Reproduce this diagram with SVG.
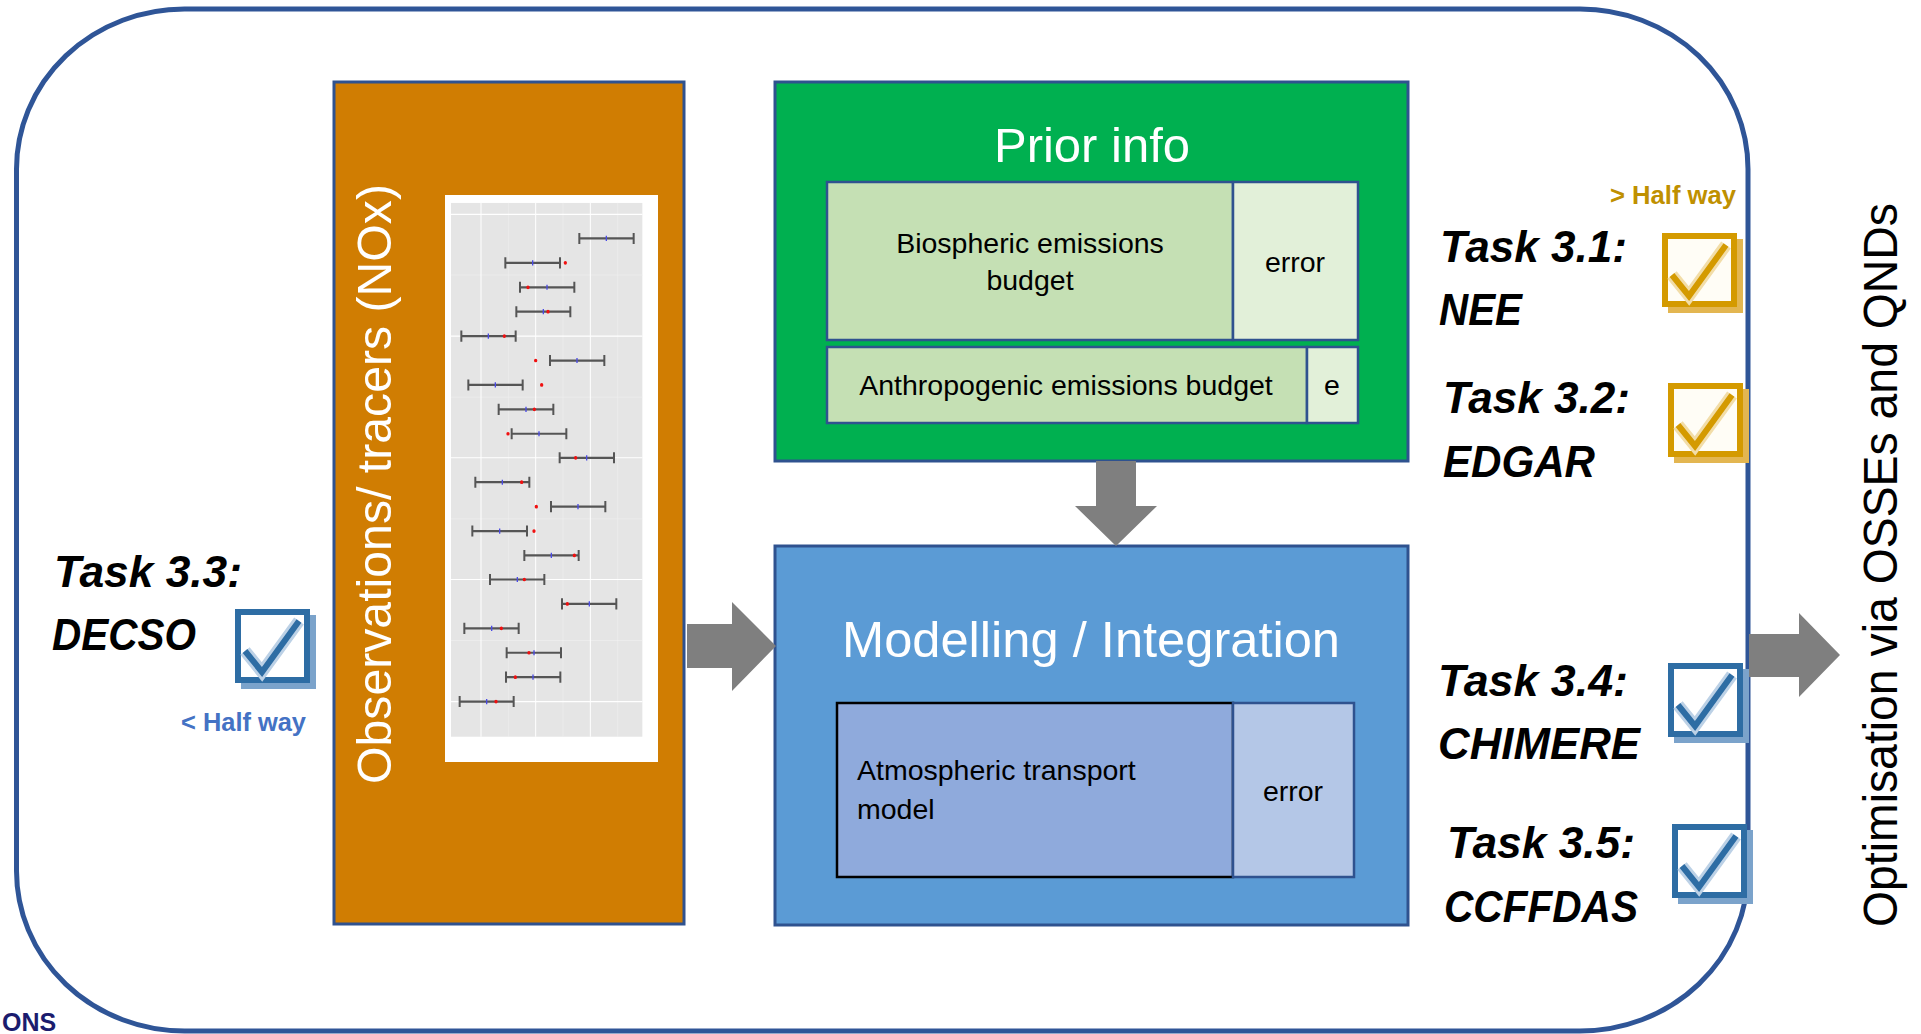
<svg xmlns="http://www.w3.org/2000/svg" xmlns:xlink="http://www.w3.org/1999/xlink" width="1921" height="1034" viewBox="0 0 1921 1034">
<style>
.sans{font-family:"Liberation Sans",Arial,sans-serif}
.box{stroke:#2F528F;stroke-width:3}
.inner{stroke:#2F528F;stroke-width:2.5}
.lbl{font-family:"Liberation Sans",Arial,sans-serif;font-size:28.5px;fill:#000}
.title{font-family:"Liberation Sans",Arial,sans-serif;fill:#fff}
.task{font-family:"Liberation Sans",Arial,sans-serif;font-weight:bold;font-style:italic;font-size:45px;fill:#000}
.half{font-family:"Liberation Sans",Arial,sans-serif;font-weight:bold;font-size:25px}
.vert{font-family:"Liberation Sans",Arial,sans-serif;font-size:48px}
.arrow{fill:#7F7F7F}
</style>
<defs>
<symbol id="chk-blue" viewBox="0 0 82 81" width="82" height="81">
<rect x="6" y="6" width="75" height="74" fill="#7BA3CB"/>
<rect x="3" y="3" width="69" height="68" fill="#fff" stroke="#2E6DA4" stroke-width="6"/>
<polyline points="10,42 27,63 64,12" fill="none" stroke="#BCD1E6" stroke-width="12"/>
<polyline points="10,42 27,63 64,12" fill="none" stroke="#2E6DA4" stroke-width="6"/>
</symbol>
<symbol id="chk-gold" viewBox="0 0 82 81" width="82" height="81">
<rect x="6" y="6" width="75" height="74" fill="#E3B651"/>
<rect x="3" y="3" width="69" height="68" fill="#FFFDF6" stroke="#D49A00" stroke-width="6"/>
<polyline points="10,42 27,63 64,12" fill="none" stroke="#F2DDA8" stroke-width="12"/>
<polyline points="10,42 27,63 64,12" fill="none" stroke="#D49A00" stroke-width="6"/>
</symbol>
</defs>
<rect width="1921" height="1034" fill="#fff"/>

<g id="frame">
<rect x="16.5" y="9" width="1731.5" height="1022" rx="168" ry="160" fill="none" stroke="#2F5597" stroke-width="5"/>
</g>

<g id="node-observations">
<rect class="box" x="334" y="82" width="350" height="842" fill="#D07D02"/>
<rect x="445" y="195" width="213" height="567" fill="#fff"/>
<g transform="translate(440,190) scale(0.33333,0.3699)">
<rect x="33" y="35" width="574" height="1443" fill="#E5E5E5"/>
<path d="M205 35V1478M369 35V1478M533 35V1478M33 230H607M33 560H607M33 889H607M33 1218H607" stroke="#F2F2F2" stroke-width="1.5"/>
<path d="M123 35V1478M287 35V1478M451 35V1478M33 66H607M33 395H607M33 724H607M33 1053H607M33 1383H607" stroke="#fff" stroke-width="3"/>
<path fill="none" stroke="#555" stroke-width="6" d="M418 131H581M418 116v30M581 116v30M196 197H360M196 182v30M360 182v30M240 263H403M240 248v30M403 248v30M229 329H391M229 314v30M391 314v30M64 395H227M64 380v30M227 380v30M330 461H493M330 446v30M493 446v30M85 527H248M85 512v30M248 512v30M176 593H340M176 578v30M340 578v30M215 659H379M215 644v30M379 644v30M359 724H522M359 709v30M522 709v30M106 790H268M106 775v30M268 775v30M333 856H496M333 841v30M496 841v30M97 922H261M97 907v30M261 907v30M253 988H416M253 973v30M416 973v30M150 1053H313M150 1038v30M313 1038v30M366 1119H529M366 1104v30M529 1104v30M73 1185H236M73 1170v30M236 1170v30M200 1251H363M200 1236v30M363 1236v30M198 1317H361M198 1302v30M361 1302v30M59 1383H221M59 1368v30M221 1368v30"/>
<path fill="none" stroke="#4B4BE6" stroke-width="4" d="M499 124v14M278 190v14M321 256v14M310 322v14M145 388v14M411 454v14M166 520v14M258 586v14M297 652v14M440 717v14M187 783v14M414 849v14M179 915v14M334 981v14M232 1046v14M448 1112v14M155 1178v14M282 1244v14M279 1310v14M140 1376v14"/>
<path fill="none" stroke="#F01010" stroke-width="10" stroke-linecap="round" d="M376 197h0M264 263h0M324 329h0M193 395h0M287 461h0M305 527h0M283 593h0M204 659h0M407 724h0M245 790h0M289 856h0M282 922h0M403 988h0M253 1053h0M382 1119h0M184 1185h0M267 1251h0M226 1317h0M168 1383h0"/>
</g>
<text class="vert" fill="#fff" transform="translate(391,784) rotate(-90)" textLength="600" lengthAdjust="spacingAndGlyphs">Observations/ tracers (NOx)</text>
</g>

<g id="node-prior">
<rect class="box" x="775" y="82" width="633" height="379" fill="#00B050"/>
<text class="title" x="1092" y="162" font-size="48" text-anchor="middle" textLength="196" lengthAdjust="spacingAndGlyphs">Prior info</text>
<rect class="inner" x="827" y="182" width="406" height="158" fill="#C5E0B4"/>
<rect class="inner" x="1233" y="182" width="125" height="158" fill="#E2F0D9"/>
<text class="lbl" x="1030" y="253" text-anchor="middle">Biospheric emissions</text>
<text class="lbl" x="1030" y="290" text-anchor="middle">budget</text>
<text class="lbl" x="1295" y="272" text-anchor="middle">error</text>
<rect class="inner" x="827" y="347" width="480" height="76" fill="#C5E0B4"/>
<rect class="inner" x="1307" y="347" width="51" height="76" fill="#E2F0D9"/>
<text class="lbl" x="1066" y="395" text-anchor="middle" font-size="29">Anthropogenic emissions budget</text>
<text class="lbl" x="1332" y="395" text-anchor="middle">e</text>
</g>

<g id="node-modelling">
<rect class="box" x="775" y="546" width="633" height="379" fill="#5B9BD5"/>
<text class="title" x="1091" y="657" font-size="50" text-anchor="middle" textLength="498" lengthAdjust="spacingAndGlyphs">Modelling / Integration</text>
<rect x="837" y="703" width="396" height="174" fill="#8FAADC" stroke="#000" stroke-width="2.5"/>
<rect class="inner" x="1233" y="703" width="121" height="174" fill="#B4C7E7"/>
<text class="lbl" x="857" y="780" font-size="29.5">Atmospheric transport</text>
<text class="lbl" x="857" y="819" font-size="29.5">model</text>
<text class="lbl" x="1293" y="801" text-anchor="middle">error</text>
</g>

<g id="connectors">
<polygon class="arrow" points="1096,461 1136,461 1136,506 1157,506 1116,546 1075,506 1096,506"/>
<polygon class="arrow" points="687,624 732,624 732,602 776,646 732,691 732,668 687,668"/>
<polygon class="arrow" points="1749,634 1799,634 1799,613 1840,655 1799,697 1799,677 1749,677"/>
</g>

<g id="label-optimisation">
<text class="vert" fill="#000" transform="translate(1897,927) rotate(-90)" textLength="724" lengthAdjust="spacingAndGlyphs">Optimisation via OSSEs and QNDs</text>
</g>

<g id="task-3-3">
<text class="task" x="54" y="587" textLength="188" lengthAdjust="spacingAndGlyphs">Task 3.3:</text>
<text class="task" x="52" y="650" textLength="144" lengthAdjust="spacingAndGlyphs">DECSO</text>
<use href="#chk-blue" xlink:href="#chk-blue" x="235" y="609"/>
<text class="half" x="181" y="731" fill="#4472C4" textLength="125" lengthAdjust="spacingAndGlyphs">&lt; Half way</text>
</g>

<g id="task-3-1">
<text class="half" x="1610" y="204" fill="#BF9000" textLength="126" lengthAdjust="spacingAndGlyphs">&gt; Half way</text>
<text class="task" x="1440" y="262" textLength="187" lengthAdjust="spacingAndGlyphs">Task 3.1:</text>
<text class="task" x="1439" y="325" textLength="83" lengthAdjust="spacingAndGlyphs">NEE</text>
<use href="#chk-gold" xlink:href="#chk-gold" x="1662" y="233"/>
</g>

<g id="task-3-2">
<text class="task" x="1443" y="413" textLength="187" lengthAdjust="spacingAndGlyphs">Task 3.2:</text>
<text class="task" x="1443" y="477" textLength="152" lengthAdjust="spacingAndGlyphs">EDGAR</text>
<use href="#chk-gold" xlink:href="#chk-gold" x="1668" y="383"/>
</g>

<g id="task-3-4">
<text class="task" x="1438" y="696" textLength="190" lengthAdjust="spacingAndGlyphs">Task 3.4:</text>
<text class="task" x="1438" y="759" textLength="202" lengthAdjust="spacingAndGlyphs">CHIMERE</text>
<use href="#chk-blue" xlink:href="#chk-blue" x="1668" y="663"/>
</g>

<g id="task-3-5">
<text class="task" x="1447" y="858" textLength="188" lengthAdjust="spacingAndGlyphs">Task 3.5:</text>
<text class="task" x="1444" y="922" textLength="194" lengthAdjust="spacingAndGlyphs">CCFFDAS</text>
<use href="#chk-blue" xlink:href="#chk-blue" x="1672" y="824"/>
</g>

<g id="footer">
<text class="sans" x="2" y="1031" font-size="25" font-weight="bold" fill="#1B1C6E">ONS</text>
</g>
</svg>
